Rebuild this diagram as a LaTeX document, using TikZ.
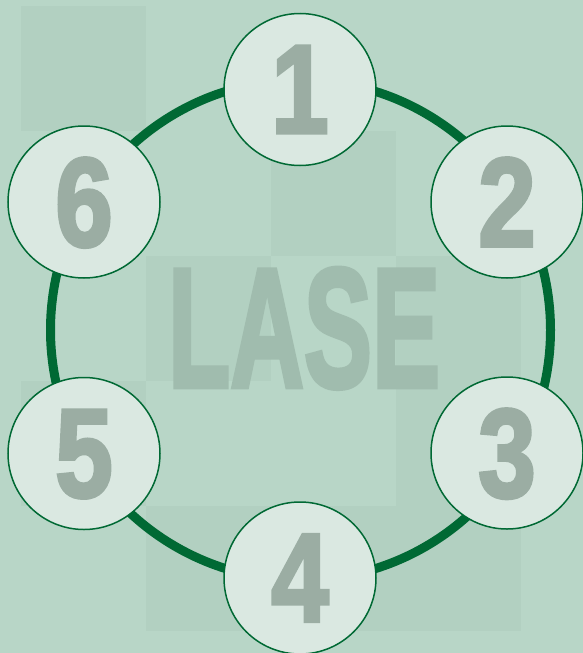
\documentclass[tikz,border=0pt]{standalone}
\usepackage{graphicx}
\usepackage{fontspec}
\usepackage{tikz}
\newfontfamily\numfont{Liberation Sans Bold}[FakeBold=3]

\definecolor{bgbase}{HTML}{B8D6C7}
\definecolor{bgdark}{HTML}{B2D0C1}
\definecolor{ringgreen}{HTML}{006934}
\definecolor{stagefill}{HTML}{DAE8E1}
\definecolor{digitgray}{HTML}{9BADA3}
\definecolor{markgray}{HTML}{A0BCAE}

\begin{document}
\begin{tikzpicture}[
  x=1pt, y=-1pt,
  cell/.style={fill=bgdark},
  ring/.style={draw=ringgreen, line width=9pt},
  stage/.style={circle, draw=ringgreen, line width=1.5pt, fill=stagefill,
    minimum size=152pt, inner sep=0pt, text depth=0pt, text=digitgray,
    font=\numfont\fontsize{126}{126}\selectfont},
  watermark/.style={text=markgray, inner sep=0pt, text depth=0pt,
    font=\numfont\fontsize{170}{170}\selectfont},
]
  \useasboundingbox (0,0) rectangle (583,653);
  \fill[bgbase] (0,0) rectangle (583,653);
  % checker squares
  \foreach \cx/\cy in {21/6, 271/131, 146/256, 396/256, 21/381, 396/381,
                       146/506, 271/506, 396/506}
    \fill[cell] (\cx,\cy) rectangle +(125,125);

  \node[watermark] (title) at (304,327.5) {\scalebox{0.6}[1]{LASE}};

  \coordinate (hub) at (300.5,330);
  \draw[ring] (hub) circle[radius=250];

  \node[stage] (s1) at (300,89.5) {\scalebox{0.82}[1]{1}};
  \node[stage] (s2) at (507,202) {\scalebox{0.82}[1]{2}};
  \node[stage] (s3) at (507,453) {\scalebox{0.82}[1]{3}};
  \node[stage] (s4) at (300,578) {\scalebox{0.82}[1]{4}};
  \node[stage] (s5) at (84,453.5) {\scalebox{0.82}[1]{5}};
  \node[stage] (s6) at (84,202) {\scalebox{0.82}[1]{6}};
\end{tikzpicture}
\end{document}
